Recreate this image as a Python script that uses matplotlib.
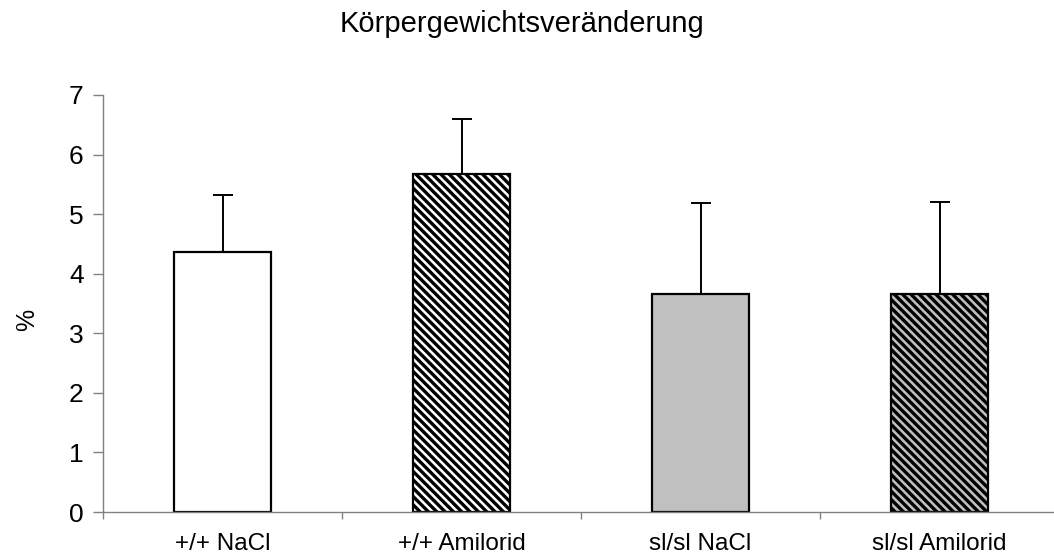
import matplotlib
matplotlib.use("Agg")
import matplotlib.pyplot as plt

plt.rcParams['font.family'] = ['Liberation Sans', 'DejaVu Sans']
plt.rcParams['hatch.linewidth'] = 2.4

groups = ["+/+ NaCl", "+/+ Amilorid", "sl/sl NaCl", "sl/sl Amilorid"]
values = [4.37, 5.68, 3.66, 3.66]
errors = [0.95, 0.92, 1.52, 1.55]
fills = ["white", "white", "#C0C0C0", "#C0C0C0"]
hatches = [None, "\\\\\\\\", None, "\\\\\\\\"]

fig = plt.figure(figsize=(10.54, 5.6), dpi=100)
ax = fig.add_axes([103/1054, 48/560, 956/1054, 417/560])

pos = list(range(len(groups)))
for i in pos:
    ax.bar(i, values[i], width=0.41, color=fills[i], edgecolor="black",
           linewidth=1.6, hatch=hatches[i], zorder=2)
ax.errorbar(pos, values, yerr=[[0]*len(errors), errors], fmt="none",
            ecolor="black", elinewidth=1.4, capsize=7, capthick=1.4, zorder=3)

ax.set_xlim(-0.5, 3.5)
ax.set_ylim(0, 7)
ax.set_yticks(range(8))
ax.tick_params(axis="y", labelsize=19, length=7, width=1, color="#808080", pad=7)

ax.set_xticks([-0.5, 0.5, 1.5, 2.5, 3.5])
ax.set_xticklabels([])
ax.set_xticks(pos, minor=True)
ax.set_xticklabels(groups, minor=True, fontsize=17.5)
ax.tick_params(axis="x", which="major", length=5, width=1, color="#808080")
ax.tick_params(axis="x", which="minor", length=0, pad=15)

for s in ["top", "right"]:
    ax.spines[s].set_visible(False)
for s in ["left", "bottom"]:
    ax.spines[s].set_color("#808080")
    ax.spines[s].set_linewidth(1)

ax.set_ylabel("%", fontsize=18)
ax.yaxis.set_label_coords(-64/956, 0.46)
fig.text(0.495, 1 - 32/560, "Körpergewichtsveränderung", ha="center", va="baseline", fontsize=21)

fig.savefig("out.png", dpi=100)
